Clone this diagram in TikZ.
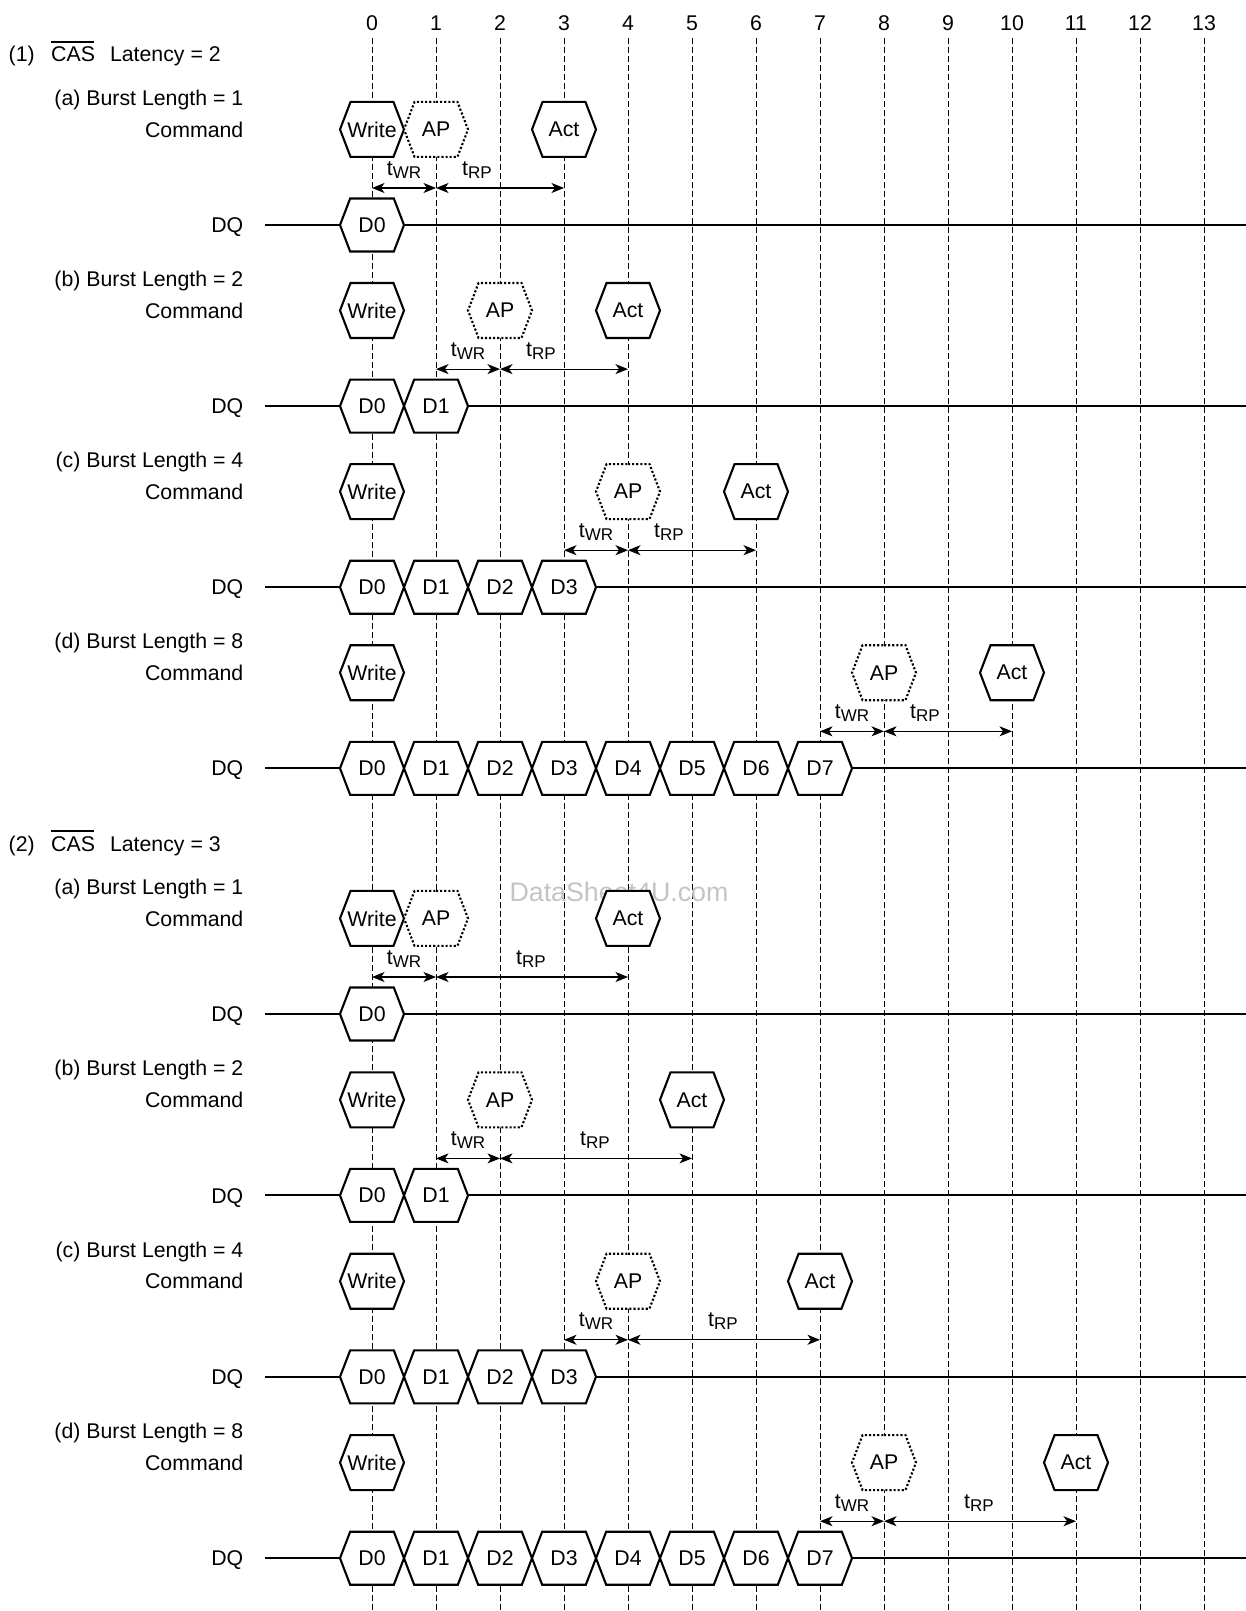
\documentclass[tikz,border=0pt]{standalone}
\usepackage{fontspec}
\setmainfont{Liberation Sans}
\usetikzlibrary{arrows.meta, shapes.symbols}
\definecolor{cwm}{HTML}{C4C4C4}
\newcommand{\casbar}{\rlap{\kern-0.4pt\rule[19.4pt]{43.5pt}{1.3pt}}CAS}
\newcommand{\tsub}[1]{t\raisebox{-3pt}{\fontsize{17}{17}\selectfont #1}}
\tikzset{
  every picture/.style={font=\fontsize{21.3}{25}\selectfont, x=1pt, y=-1pt},
  colline/.style={dash pattern=on 6pt off 3pt, line width=1pt},
  sig/.style={line width=2.1pt},
  hexbox/.style={signal, signal to=east and west, signal pointer angle=138, draw, fill=white, line width=2.1pt, minimum width=64pt, minimum height=55pt, inner sep=0pt},
  databox/.style={hexbox, minimum height=53pt},
  apbox/.style={hexbox, dotted},
  tarrow/.style={{Stealth[length=12.5pt, width=10pt, inset=3.5pt]}-{Stealth[length=12.5pt, width=10pt, inset=3.5pt]}, line width=1.2pt},
  lbl/.style={anchor=base east, inner sep=0pt},
  tlbl/.style={anchor=base, inner sep=0pt},
}

\begin{document}
\begin{tikzpicture}
  \useasboundingbox (0,0) rectangle (1246,1611);
  % clock columns
  \foreach \k in {0,...,13} {
    \node (n\k) at (372+64*\k,23) {\k};
    \draw[colline] (372+64*\k,38) -- (372+64*\k,1611);
  }
  % watermark
  \node[text=cwm, font=\fontsize{26.8}{30}\selectfont] (wm) at (619,892) {DataSheet4U.com};
  % latency headers
  \node[anchor=base west, inner sep=0pt] (cl2) at (8.5,62) {(1)\hspace{16.5pt}\casbar\hspace{15pt}Latency = 2};
  \node[anchor=base west, inner sep=0pt] (cl3) at (8.5,851) {(2)\hspace{16.5pt}\casbar\hspace{15pt}Latency = 3};
  % panels: DQ row / letter / burst length / AP col / Act col / tRP label offset
  \foreach \dq/\lt/\bl/\ap/\act/\rp [count=\i] in {
      225/a/1/1/3/41, 406.1/b/2/2/4/41, 587.2/c/4/4/6/41, 768.3/d/8/8/10/41,
      1014/a/1/1/4/95, 1195.4/b/2/2/5/95, 1376.8/c/4/4/7/95, 1558.2/d/8/8/11/95} {
    \node[lbl] (bl\i) at (243.5,\dq-119.8) {(\lt) Burst Length = \bl};
    \node[lbl] (cmd\i) at (243.5,\dq-88) {Command};
    \node[lbl] (dq\i) at (243.5,\dq+7.6) {DQ};
    \coordinate (beg\i) at (265,\dq);
    \coordinate (end\i) at (1246,\dq);
    \draw[sig] (beg\i) -- (end\i);
    \node[hexbox] (wr\i) at (372,\dq-95.6) {\makebox[0pt]{Write}};
    \node[apbox] (ap\i) at (372+64*\ap,\dq-95.6) {AP};
    \node[hexbox] (act\i) at (372+64*\act,\dq-95.6) {Act};
    \pgfmathtruncatemacro\last{\bl-1}
    \foreach \k in {0,...,\last}
      \node[databox] (d\i-\k) at (372+64*\k,\dq) {D\k};
    % tWR and tRP
    \coordinate (t\i) at (372+64*\ap-64,\dq-37);
    \draw[tarrow] (t\i) -- (ap\i |- t\i);
    \draw[tarrow] (ap\i |- t\i) -- (act\i |- t\i);
    \node[tlbl] (twr\i) at (372+64*\ap-32,\dq-50) {\tsub{WR}};
    \node[tlbl] (trp\i) at (372+64*\ap+\rp,\dq-50) {\tsub{RP}};
  }
\end{tikzpicture}
\end{document}
